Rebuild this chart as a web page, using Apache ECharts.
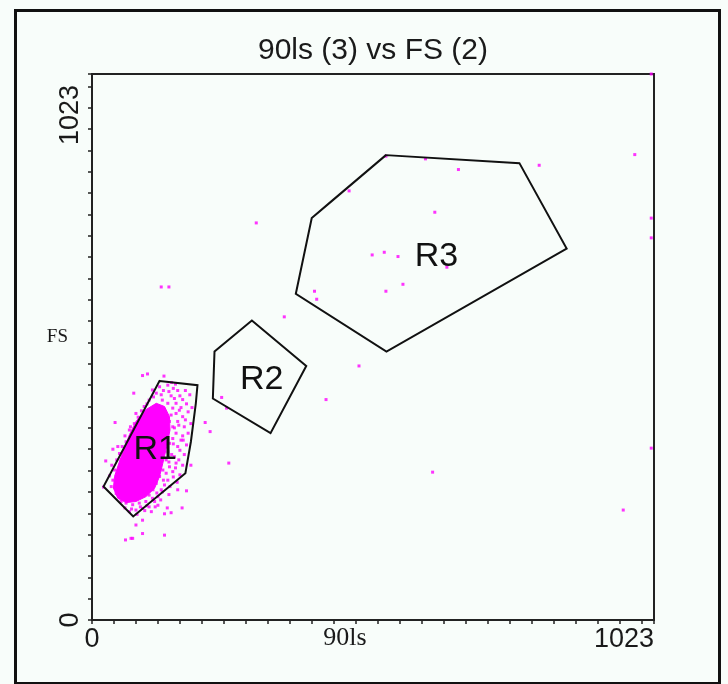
<!DOCTYPE html>
<html>
<head>
<meta charset="utf-8">
<script src="https://cdn.jsdelivr.net/npm/echarts@6/dist/echarts.min.js"></script>
<style>
  html, body { margin: 0; padding: 0; background: #f8fdfa; }
  #chart { width: 728px; height: 684px; }
</style>
</head>
<body>
<div id="chart"></div>
<script>
// Channel range of both parameters
const axisMax = 1023;
const tickStep = 40;
const xTickLabels = ['0', '1023'];
const yTickLabels = ['0', '1023'];
const xName = '90ls';
const yName = 'FS';
const plotTitle = '90ls (3) vs FS (2)';

// Gate polygons, [90ls, FS] channel vertices
const gateR1 = [[123, 448], [192, 440], [189, 406], [180, 334], [170, 275], [75, 194], [21, 250]];
const gateR2 = [[291, 561], [390, 476], [325, 350], [220, 415], [223, 503]];
const gateR3 = [[535, 871], [778, 856], [864, 696], [536, 503], [371, 611], [400, 753], [433, 782]];
const gateNames = ['R1', 'R2', 'R3'];
const gateLabelAt = [[115, 319], [309, 450], [627, 680]];

// Saturated core of the lymphocyte population
const coreOutline = [[117, 406], [132, 400], [141, 381], [142, 356], [136, 325], [129, 294], [123, 269],
  [114, 247], [98, 231], [80, 222], [62, 220], [47, 228], [39, 247], [41, 269], [49, 294], [59, 322],
  [68, 347], [80, 372], [98, 394]];

// Individual events around the core
const haloEvents = [[138, 440], [152, 442], [148, 434], [156, 430], [126, 422], [144, 420], [165, 413], [153, 406],
  [138, 406], [147, 397], [159, 393], [129, 390], [144, 384], [153, 387], [165, 381], [141, 372], [156, 372],
  [147, 362], [168, 362], [138, 356], [153, 350], [147, 340], [162, 337], [141, 331], [156, 325], [138, 315],
  [150, 306], [135, 300], [153, 294], [141, 287], [129, 281], [147, 278], [123, 269], [138, 262], [117, 256],
  [132, 253], [111, 244], [126, 244], [104, 234], [120, 231], [98, 222], [114, 222], [86, 219], [104, 212],
  [74, 216], [92, 209], [62, 219], [80, 206], [68, 203], [53, 222], [44, 237], [50, 250], [38, 262], [41, 281],
  [53, 300], [50, 312], [62, 334], [68, 356], [77, 368], [80, 387], [95, 400], [104, 412], [117, 425],
  [110, 431], [123, 437],
  [170, 430], [178, 422], [160, 420], [172, 405], [182, 398], [150, 415], [175, 390], [162, 398], [170, 375],
  [180, 368], [158, 365], [175, 350], [165, 345], [150, 360], [172, 328], [160, 318], [148, 330], [168, 310],
  [158, 300], [145, 310], [165, 290], [152, 285], [140, 296], [160, 272], [148, 268], [135, 275], [155, 258],
  [142, 250], [130, 262], [128, 240], [140, 235], [118, 238], [110, 228], [125, 225], [100, 214], [115, 212],
  [88, 212], [96, 205], [82, 198], [72, 208], [60, 210], [108, 203], [120, 215], [55, 230], [48, 240],
  [35, 250], [32, 270], [36, 290], [45, 300], [55, 325], [60, 345], [70, 362], [84, 380], [90, 392],
  [100, 405], [112, 418], [130, 430], [140, 428], [128, 412], [145, 445]];
const nearEvents = [[92, 458], [101, 461], [131, 457], [76, 425], [42, 370], [206, 370], [38, 320], [47, 325],
  [25, 298], [21, 249], [180, 290], [166, 337], [156, 244], [172, 242], [137, 210], [164, 210], [132, 199],
  [144, 201], [92, 187], [80, 178], [92, 162], [132, 159], [61, 150], [71, 153], [74, 153]];
const farEvents = [[535, 869], [607, 864], [667, 844], [814, 852], [468, 804], [624, 764], [510, 684], [532, 689],
  [557, 681], [646, 661], [566, 629], [535, 616], [405, 616], [409, 601], [350, 568], [988, 872], [1018, 753],
  [1018, 716], [1018, 322], [967, 206], [1018, 1023], [299, 744], [126, 624], [140, 624], [236, 417],
  [245, 397], [215, 353], [249, 294], [426, 413], [620, 277], [486, 476]];

const gates = [gateR1, gateR2, gateR3];
const dotColor = '#ff00ff';
const ink = '#1a1a1a';
const sans = '"Liberation Sans", Arial, sans-serif';
const serif = '"Liberation Serif", "Times New Roman", serif';

const chart = echarts.init(document.getElementById('chart'), null, { renderer: 'canvas' });

chart.setOption({
  backgroundColor: '#f8fdfa',
  animation: false,
  title: {
    text: plotTitle,
    left: 368,
    top: 31,
    textAlign: 'center',
    textStyle: { fontFamily: sans, fontSize: 30, fontWeight: 'normal', color: ink }
  },
  graphic: [{
    type: 'rect',
    left: 13, top: 8,
    shape: { width: 704, height: 673 },
    style: { fill: 'none', stroke: '#111', lineWidth: 3 },
    silent: true
  }],
  grid: { left: 92, top: 74, width: 562, height: 546, show: true, borderColor: '#222', borderWidth: 2, backgroundColor: 'transparent' },
  xAxis: {
    type: 'value', min: 0, max: axisMax, interval: tickStep,
    splitLine: { show: false },
    axisLine: { lineStyle: { color: '#222', width: 2 } },
    axisTick: { length: 4, lineStyle: { color: '#222', width: 1.5 } },
    axisLabel: {
      formatter: (v) => (v === 0 ? xTickLabels[0] : (v === axisMax ? xTickLabels[1] : '')),
      showMinLabel: true, showMaxLabel: true, alignMaxLabel: 'right',
      margin: 6, color: ink, fontFamily: sans, fontSize: 27
    },
    name: xName, nameLocation: 'middle', nameGap: 5, nameMoveOverlap: false,
    nameTextStyle: { fontFamily: serif, fontSize: 26, color: ink, verticalAlign: 'top', padding: [0, 56, 0, 0] }
  },
  yAxis: {
    type: 'value', min: 0, max: axisMax, interval: tickStep,
    splitLine: { show: false },
    axisLine: { lineStyle: { color: '#222', width: 2 } },
    axisTick: { length: 4, lineStyle: { color: '#222', width: 1.5 } },
    axisLabel: {
      formatter: (v) => (v === 0 ? yTickLabels[0] : (v === axisMax ? '{top|' + yTickLabels[1] + '}' : '')),
      showMinLabel: true, showMaxLabel: true, rotate: 90,
      margin: 8, color: ink, fontFamily: sans, fontSize: 27,
      rich: { top: { fontFamily: sans, fontSize: 27, color: ink, padding: [0, 82, 0, 0] } }
    },
    name: yName, nameLocation: 'middle', nameGap: 24, nameRotate: 0, nameMoveOverlap: false,
    nameTextStyle: { fontFamily: serif, fontSize: 19, color: ink, verticalAlign: 'bottom' }
  },
  series: [
    {
      type: 'custom',
      name: 'core',
      z: 1,
      silent: true,
      data: [[0, 0]],
      renderItem: (params, api) => ({
        type: 'polygon',
        shape: { points: coreOutline.map((p) => api.coord(p)) },
        style: { fill: dotColor, stroke: dotColor, lineWidth: 1 }
      })
    },
    {
      type: 'scatter',
      name: 'events',
      z: 2,
      silent: true,
      symbol: 'rect',
      symbolSize: 3,
      itemStyle: { color: dotColor },
      data: haloEvents.concat(nearEvents, farEvents)
    },
    {
      type: 'custom',
      name: 'gates',
      z: 3,
      silent: true,
      data: gateLabelAt.map((p, i) => [p[0], p[1], i]),
      renderItem: (params, api) => {
        const i = api.value(2);
        const c = api.coord([api.value(0), api.value(1)]);
        return {
          type: 'group',
          children: [
            { type: 'polygon', shape: { points: gates[i].map((p) => api.coord(p)) },
              style: { fill: 'none', stroke: '#111', lineWidth: 2 } },
            { type: 'text', x: c[0], y: c[1],
              style: { text: gateNames[i], fill: '#111', font: '34px ' + sans,
                align: 'center', verticalAlign: 'middle' } }
          ]
        };
      }
    }
  ]
});
</script>
</body>
</html>
